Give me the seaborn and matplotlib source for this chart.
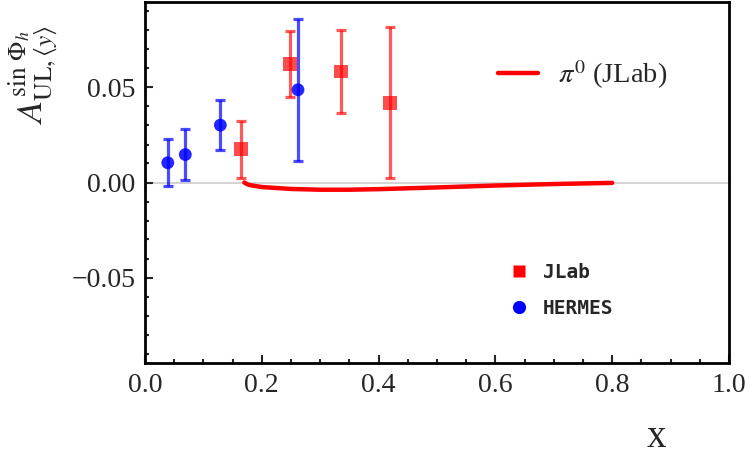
import numpy as np
import pandas as pd
import matplotlib
matplotlib.use("Agg")
import matplotlib.pyplot as plt
from matplotlib.ticker import MultipleLocator, FormatStrFormatter, FuncFormatter
from matplotlib.lines import Line2D
import seaborn as sns

# ---- data ----
jlab_x = [0.164, 0.248, 0.335, 0.419]
jlab_y = [0.0174, 0.0625, 0.0584, 0.0420]
jlab_err = [0.0150, 0.0174, 0.0218, 0.0397]

hermes_x = [0.039, 0.069, 0.129, 0.262]
hermes_y = [0.0104, 0.0147, 0.0302, 0.0488]
hermes_err = [0.0125, 0.0133, 0.0133, 0.0375]

curve_x = [0.170, 0.175, 0.18, 0.20, 0.25, 0.30, 0.35, 0.40, 0.50, 0.60, 0.70, 0.80]
curve_y = [0.0000, -0.0009, -0.0014, -0.0024, -0.0034, -0.0038, -0.0038, -0.0035, -0.0026, -0.0016, -0.0008, -0.0002]

sns.set_style("white")
plt.rcParams['font.family'] = ['Liberation Serif', 'DejaVu Serif']
plt.rcParams['mathtext.fontset'] = 'stix'

fig = plt.figure(figsize=(7.5, 4.59), dpi=100)
ax = fig.add_axes([145/750, 1-363/459, (729-145)/750, (363-2)/459])

ax.axhline(0, color='#cccccc', lw=1.2, zorder=0)

curve_df = pd.DataFrame({'x': curve_x, 'y': curve_y})
sns.lineplot(data=curve_df, x='x', y='y', ax=ax, color='red', lw=3.2,
             sort=False, estimator=None, legend=False)

ax.errorbar(jlab_x, jlab_y, yerr=jlab_err, fmt='none', ecolor='red', alpha=0.65,
            elinewidth=2.3, capsize=3.6, capthick=2.3, zorder=3)
ax.errorbar(hermes_x, hermes_y, yerr=hermes_err, fmt='none', ecolor='blue', alpha=0.7,
            elinewidth=2.3, capsize=3.6, capthick=2.3, zorder=3)

pts = pd.DataFrame({'x': jlab_x + hermes_x, 'y': jlab_y + hermes_y,
                    'exp': ['JLab'] * len(jlab_x) + ['HERMES'] * len(hermes_x)})
sns.scatterplot(data=pts[pts.exp == 'JLab'], x='x', y='y', ax=ax, marker='s', s=100,
                color='red', alpha=0.7, edgecolor='none', zorder=4, legend=False)
sns.scatterplot(data=pts[pts.exp == 'HERMES'], x='x', y='y', ax=ax, marker='o', s=85,
                color='blue', alpha=0.85, edgecolor='none', zorder=4, legend=False)

ax.set_xlim(0, 1.0)
ax.set_ylim(-0.095, 0.095)
ax.xaxis.set_major_locator(MultipleLocator(0.2))
ax.xaxis.set_minor_locator(MultipleLocator(0.05))
ax.yaxis.set_major_locator(MultipleLocator(0.05))
ax.yaxis.set_minor_locator(MultipleLocator(0.01))
ax.xaxis.set_major_formatter(FormatStrFormatter('%.1f'))
ax.yaxis.set_major_formatter(FuncFormatter(
    lambda v, p: ('%.2f' % v).replace('-', '\u2212') if abs(v) > 1e-9 else '0.00'))
ax.tick_params(which='both', direction='in', top=False, right=False,
               bottom=True, left=True, width=1.5, labelsize=20)
ax.tick_params(which='major', length=6)
ax.tick_params(which='minor', length=3)
ax.tick_params(axis='x', pad=7)
ax.tick_params(axis='y', pad=7)
for sp in ax.spines.values():
    sp.set_linewidth(2)
    sp.set_color('black')

ax.set_ylabel(r'$A_{\mathrm{UL},\langle y\rangle}^{\sin\,\Phi_h}$', fontsize=26)
ax.yaxis.set_label_coords(-0.145, 0.80)
ax.set_xlabel('x', fontsize=28)
ax.xaxis.set_label_coords(0.875, -0.233)
ax.xaxis.label.set_verticalalignment('baseline')

# legends
h1 = [Line2D([], [], color='red', lw=3.2)]
leg1 = ax.legend(h1, [r'$\pi^0$ (JLab)'], loc='center left', bbox_to_anchor=(0.604, 0.798),
                 frameon=False, fontsize=20.5, handlelength=1.4, handletextpad=0.7,
                 borderpad=0, borderaxespad=0)
ax.add_artist(leg1)
h2 = [Line2D([], [], marker='s', color='red', ls='none', markersize=9, markeredgecolor='none'),
      Line2D([], [], marker='o', color='blue', ls='none', markersize=9.5, markeredgecolor='none')]
ax.legend(h2, ['JLab', 'HERMES'], loc='center left', bbox_to_anchor=(0.623, 0.201),
          frameon=False, prop={'family': 'DejaVu Sans Mono', 'weight': 'bold', 'size': 14},
          handlelength=1.0, handletextpad=0.75, labelspacing=0.85, borderpad=0, borderaxespad=0)

fig.savefig('out.png', dpi=100)
